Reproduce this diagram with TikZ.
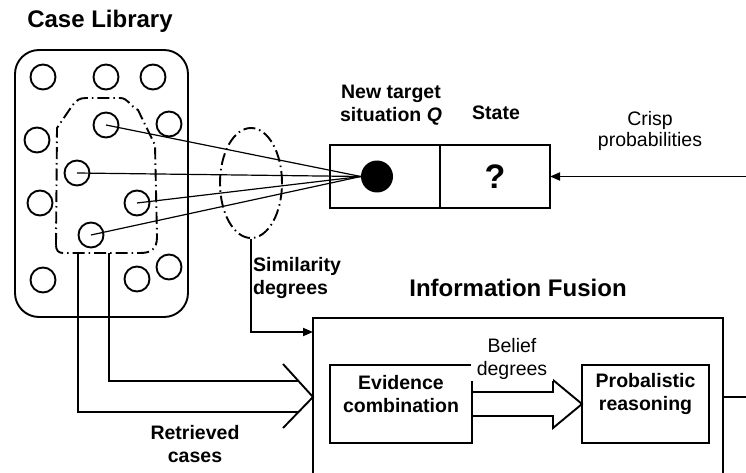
\documentclass[tikz,border=0pt]{standalone}
\usepackage{fontspec}
\setmainfont{Liberation Sans}
\usetikzlibrary{shapes.geometric, arrows.meta, positioning, calc}

\begin{document}
\begin{tikzpicture}[
      x=1pt, y=-1pt,
      %% Stored cases inside the library
      case/.style={circle, draw, line width=1.9pt, minimum size=25pt, inner sep=0pt},
      %% Plain framed boxes
      blk/.style={rectangle, draw, line width=1.9pt, inner sep=0pt, outer sep=0pt},
      %% Dash-dot outlines (retrieved set, similarity set)
      dashdot/.style={line width=1.9pt, dash pattern=on 12pt off 4pt on 1.5pt off 4pt},
      ttl/.style={font=\fontsize{24}{28}\selectfont\bfseries, inner sep=0pt},
      lbl/.style={font=\fontsize{19.5}{23}\selectfont\bfseries, align=center, inner sep=1pt},
      note/.style={font=\fontsize{19.5}{21}\selectfont, align=center, inner sep=1pt},
      arr/.style={-{Triangle[length=10pt, width=8pt]}, line width=1.9pt},
      link/.style={line width=1.9pt},
      ray/.style={line width=1.2pt},
    ]
    \useasboundingbox (0,0) rectangle (746,473);
    \clip (0,0) rectangle (746,473);

    %% ── Case library ────────────────────────────────────────────────────────
    \node[ttl, anchor=base] (libttl) at (100,28) {Case Library};
    \node[blk, rounded corners=24pt, minimum width=173pt, minimum height=267pt]
      (lib) at (101.5,183.5) {};

    \foreach \n/\px/\py in {c1/43/77, c2/106/77, c3/153/77, c4/37/140,
                            c5/106/125, c6/169/124, c7/77/173, c8/40/203,
                            c9/137/203, c10/91/235, c11/43/280, c12/137/279,
                            c13/169/267}
      \node[case] (\n) at (\px,\py) {};

    %% retrieved set
    \draw[dashdot] (56,245) -- (57,128) -- (72,106)
      .. controls (76,100) and (80,98) .. (86,98) -- (120,98)
      .. controls (128,98) and (130,106) .. (138,110) -- (155,145) -- (157,237)
      .. controls (157,250) and (150,253) .. (140,253) -- (63,253)
      .. controls (58,253) and (56,250) .. (56,245) -- cycle;
    \coordinate (retA) at (78,253);
    \coordinate (retB) at (109,253);

    %% ── Target situation ────────────────────────────────────────────────────
    \node[ellipse, draw, dashdot, minimum width=62pt, minimum height=110pt,
          inner sep=0pt] (simset) at (251,183) {};

    \node[blk, minimum width=110pt, minimum height=63pt] (target) at (385,176.5) {};
    \node[blk, minimum width=110pt, minimum height=63pt, right=0pt of target]
      (state) {\fontsize{34}{34}\selectfont\bfseries ?};
    \node[circle, fill, minimum size=32pt, inner sep=0pt] (qdot) at (377,176.5) {};

    \node[lbl] (targetlbl) at (391,105) {New target\\situation \textit{Q}};
    \node[lbl, anchor=base] (statelbl) at (496,120) {State};
    \node[note] (crisplbl) at (650,130.5) {Crisp\\probabilities};

    %% ── Information fusion ──────────────────────────────────────────────────
    \node[ttl, anchor=base] (fusionttl) at (518,296) {Information Fusion};
    \node[blk, minimum width=410pt, minimum height=200pt] (fusion) at (518,418) {};

    \node[blk, minimum width=142pt, minimum height=78pt] (evid) at (401,404) {};
    \node[lbl] (evidtxt) at ([yshift=10pt]evid.center) {Evidence\\combination};
    \node[blk, minimum width=127pt, minimum height=78pt] (prob) at (645.5,404) {};
    \node[lbl] (probtxt) at ([yshift=10pt]prob.center) {Probalistic\\reasoning};

    %% hollow arrow between the two steps
    \draw[link, line join=miter] ($(evid.east)+(0,-12)$) -- ++(81,0) -- ++(0,-12)
      -- (prob.west) -- ++(-29,24) -- ++(0,-12) -- ($(evid.east)+(0,12)$);
    \node[note, fill=white, inner xsep=6pt, inner ysep=2pt,
          font=\fontsize{19.5}{23}\selectfont] (beliefl) at (512,358.5) {Belief\\degrees};

    \node[lbl, align=left, anchor=west] (simlbl) at (252,277.5) {Similarity\\degrees};
    \node[lbl] (retlbl) at (195,444) {Retrieved\\cases};

    %% ── Arrows ──────────────────────────────────────────────────────────────
    \foreach \n in {c5,c7,c9,c10}
      \draw[ray] (\n.center) -- (qdot.west);

    \draw[arr] (simset.south) |- ($(fusion.north west)+(0,14)$);

    %% retrieved cases enter through one open head
    \coordinate (fuseTip) at ($(fusion.north west)+(0,79)$);
    \draw[link] ($(fuseTip)+(-30,-33)$) -- (fuseTip) -- ($(fuseTip)+(-30,31)$);
    \draw[link] (retB) |- ($(fuseTip)+(-15,-16)$);
    \draw[link] (retA) |- ($(fuseTip)+(-15,15)$);

    \coordinate (edgeIn) at (746,176.5);
    \draw[arr] (edgeIn) -- (state.east);
    \coordinate (edgeOut) at (746,397);
    \draw[link] (fusion.east |- edgeOut) -- (edgeOut);
  \end{tikzpicture}
\end{document}
